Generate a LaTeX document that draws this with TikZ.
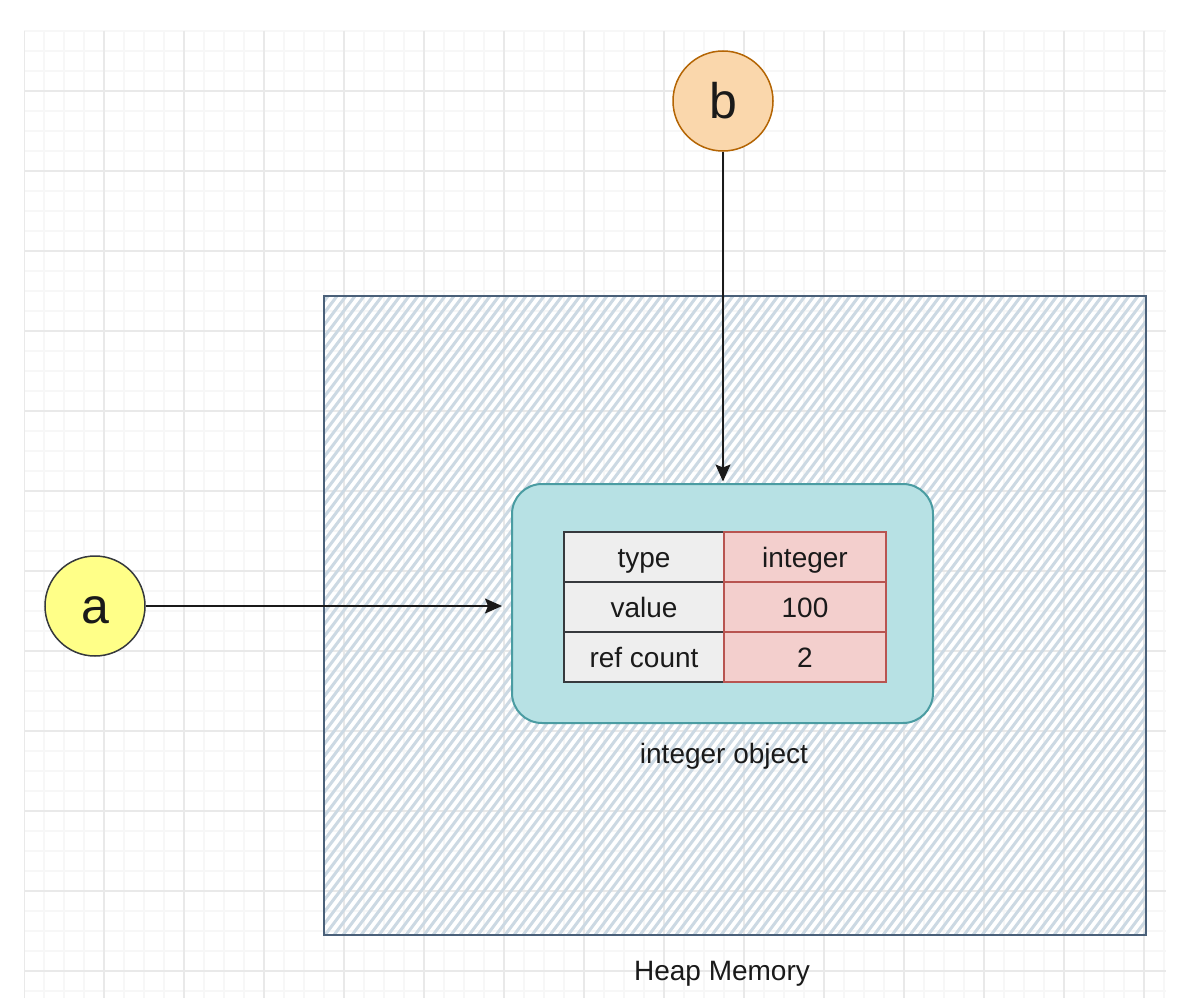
\documentclass[tikz,border=0pt]{standalone}
\usepackage{fontspec}
\setmainfont{Liberation Sans}
\usetikzlibrary{arrows.meta}

\definecolor{gridminor}{HTML}{F7F7F7}
\definecolor{gridmajor}{HTML}{E9E9E9}
\definecolor{heapline}{HTML}{4A6079}
\definecolor{heaphatch}{HTML}{CCD9E3}
\definecolor{objfill}{HTML}{B7E1E4}
\definecolor{objline}{HTML}{4A9CA2}
\definecolor{keyfill}{HTML}{EEEEEE}
\definecolor{keyline}{HTML}{36393D}
\definecolor{valfill}{HTML}{F3CFCD}
\definecolor{valline}{HTML}{B85450}
\definecolor{afill}{HTML}{FFFF88}
\definecolor{bfill}{HTML}{FAD7AC}
\definecolor{bline}{HTML}{B46504}
\definecolor{ink}{HTML}{1A1A1A}

\tikzset{
  var/.style={circle, inner sep=0pt, minimum size=100pt, line width=1.5pt,
    text=ink, font=\fontsize{50}{54}\selectfont, text height=35pt, text depth=0pt},
  cellbase/.style={minimum height=50pt, inner sep=0pt, line width=2pt,
    text=ink, font=\fontsize{28}{32}\selectfont, text height=20pt, text depth=0pt},
  keycell/.style={cellbase, minimum width=160pt, fill=keyfill, draw=keyline},
  valcell/.style={cellbase, minimum width=162pt, fill=valfill, draw=valline},
  caption/.style={text=ink, font=\fontsize{28}{32}\selectfont, text height=20pt, text depth=0pt},
  conn/.style={draw=ink, line width=1.5pt, -{Stealth[length=17pt,width=15pt,inset=3pt]}},
}

\begin{document}
\begin{tikzpicture}[x=1pt, y=-1pt]
  \useasboundingbox (0,0) rectangle (1190,998);
  \fill[white] (0,0) rectangle (1190,998);

  % background grid: fine lines every 20, stronger lines every 80
  \begin{scope}
    \clip (24,31) rectangle (1166,998);
    \foreach \x in {24,44,...,1166} \draw[gridminor, line width=1.6pt] (\x,31) -- (\x,998);
    \foreach \y in {31,51,...,998} \draw[gridminor, line width=1.6pt] (24,\y) -- (1166,\y);
    \foreach \x in {24,104,...,1166} \draw[gridmajor, line width=1.6pt] (\x,31) -- (\x,998);
    \foreach \y in {91,171,...,998} \draw[gridmajor, line width=1.6pt] (24,\y) -- (1166,\y);
  \end{scope}

  % heap area with hatched fill
  \node[draw=none, minimum width=822pt, minimum height=639pt, inner sep=0pt]
    (heap) at (735,615.5) {};
  \begin{scope}
    \clip (heap.north west) rectangle (heap.south east);
    \foreach \s in {-170,-161,...,1150}
      \draw[heaphatch, line width=3pt] (\s,935) -- (\s+480,296);
  \end{scope}
  \draw[heapline, line width=2.5pt] (heap.north west) rectangle (heap.south east);
  \node[caption] (heaplabel) at (722,970) {Heap Memory};

  % the integer object
  \node[draw=objline, fill=objfill, line width=2pt, rounded corners=30pt,
        minimum width=421pt, minimum height=239pt, inner sep=0pt]
    (obj) at (722.5,603.5) {};
  \node[caption] (objlabel) at (724,753) {integer object};

  % its fields
  \node[keycell] (k1) at (644,557) {type};
  \node[keycell] (k2) at (644,607) {value};
  \node[keycell] (k3) at (644,657) {ref count};
  \node[valcell] (v1) at (805,557) {integer};
  \node[valcell] (v2) at (805,607) {100};
  \node[valcell] (v3) at (805,657) {2};

  % the two names
  \node[var, fill=afill, draw=keyline] (a) at (95,606) {a};
  \node[var, fill=bfill, draw=bline] (b) at (723,101) {b};

  % references
  \draw[conn, shorten >=9pt] (a) -- (a -| obj.west);
  \draw[conn, shorten >=1.5pt] (b) -- (b |- obj.north);
\end{tikzpicture}
\end{document}
